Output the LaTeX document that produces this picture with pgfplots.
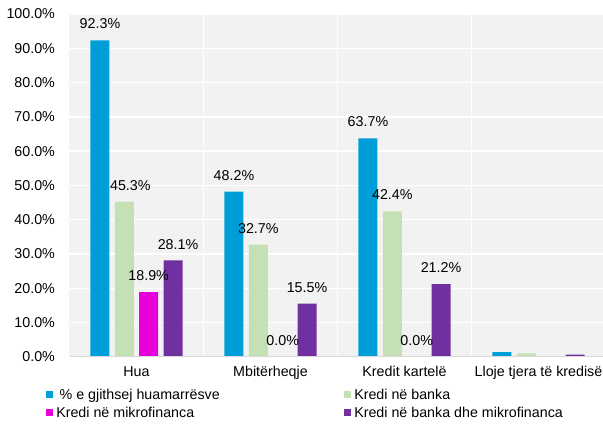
\documentclass[border=0pt]{standalone}
\usepackage{fontspec}
\setmainfont{Liberation Sans}
\usepackage{pgfplots}
\pgfplotsset{compat=1.18}
\definecolor{cblue}{RGB}{0,158,216}
\definecolor{cgreen}{RGB}{197,224,180}
\definecolor{cmag}{RGB}{230,0,218}
\definecolor{cpurp}{RGB}{112,48,160}
\definecolor{bgc}{RGB}{242,242,242}
\definecolor{axgray}{RGB}{217,217,217}
\newcommand\lf{\fontsize{10.7}{12.8}\selectfont}
\begin{document}
\begin{tikzpicture}[font=\lf]
\useasboundingbox (-52.125pt,-51.15pt) rectangle (400.125pt,267.6pt);
\begin{axis}[
  at={(0pt,0pt)}, anchor=south west,
  scale only axis, width=402pt, height=257.1pt,
  xmin=-0.5, xmax=3.5, ymin=0, ymax=100,
  ybar, bar width=14.25pt,
  axis line style={draw=none},
  axis background/.style={fill=bgc},
  xtick={0,1,2,3},
  xticklabels={Hua, Mbitërheqje, Kredit kartelë, Lloje tjera të kredisë},
  minor xtick={0.5,1.5,2.5},
  xminorgrids, ymajorgrids,
  grid style={white, line width=1.1pt},
  minor grid style={white, line width=1.1pt},
  major grid style={white, line width=1.1pt},
  major tick length=0pt, minor tick length=0pt,
  ytick={0,10,20,30,40,50,60,70,80,90,100},
  yticklabels={0.0\%,10.0\%,20.0\%,30.0\%,40.0\%,50.0\%,60.0\%,70.0\%,80.0\%,90.0\%,100.0\%},
  x tick label style={anchor=base, yshift=-15pt, text=black},
  y tick label style={xshift=-7.4pt, text=black},
  point meta=explicit symbolic,
  nodes near coords,
  every node near coord/.append style={anchor=base, yshift=8.6pt, text=black},
  legend columns=2,
  legend style={at={(rel axis cs:0,0)}, anchor=north west, xshift=-17.6pt, yshift=-24pt,
    draw=none, fill=none, inner sep=0pt, row sep=3.7pt,
    nodes={inner sep=0pt, text height=7.7pt, text depth=2.3pt, anchor=base west},
    /tikz/every odd column/.append style={column sep=2.5pt}},
  legend image code/.code={\fill[#1] (0pt,1.3pt) rectangle (5pt,6.3pt);},
]
\addplot[fill=cblue, draw=none, bar shift=-27.4pt] coordinates {
  (0,92.3) [92.3\%] (1,48.2) [48.2\%] (2,63.7) [63.7\%] (3,1.4) []};
\addlegendentry{\makebox[216pt][l]{\hspace*{2.5pt}\% e gjithsej huamarrësve}}
\addplot[fill=cgreen, draw=none, bar shift=-9.15pt] coordinates {
  (0,45.3) [\kern9pt 45.3\%] (1,32.7) [32.7\%] (2,42.4) [42.4\%] (3,1.0) []};
\addlegendentry{Kredi në banka}
\addplot[fill=cmag, draw=none, bar shift=9.15pt] coordinates {
  (0,18.9) [18.9\%] (1,0) [0.0\%] (2,0) [0.0\%] (3,0) []};
\addlegendentry{\makebox[216pt][l]{Kredi në mikrofinanca}}
\addplot[fill=cpurp, draw=none, bar shift=27.4pt] coordinates {
  (0,28.1) [\kern7.5pt 28.1\%] (1,15.5) [15.5\%] (2,21.2) [21.2\%] (3,0.6) []};
\addlegendentry{Kredi në banka dhe mikrofinanca}
\draw[axgray, line width=0.75pt] (rel axis cs:0,0) -- (rel axis cs:1,0);
\end{axis}
\end{tikzpicture}
\end{document}
